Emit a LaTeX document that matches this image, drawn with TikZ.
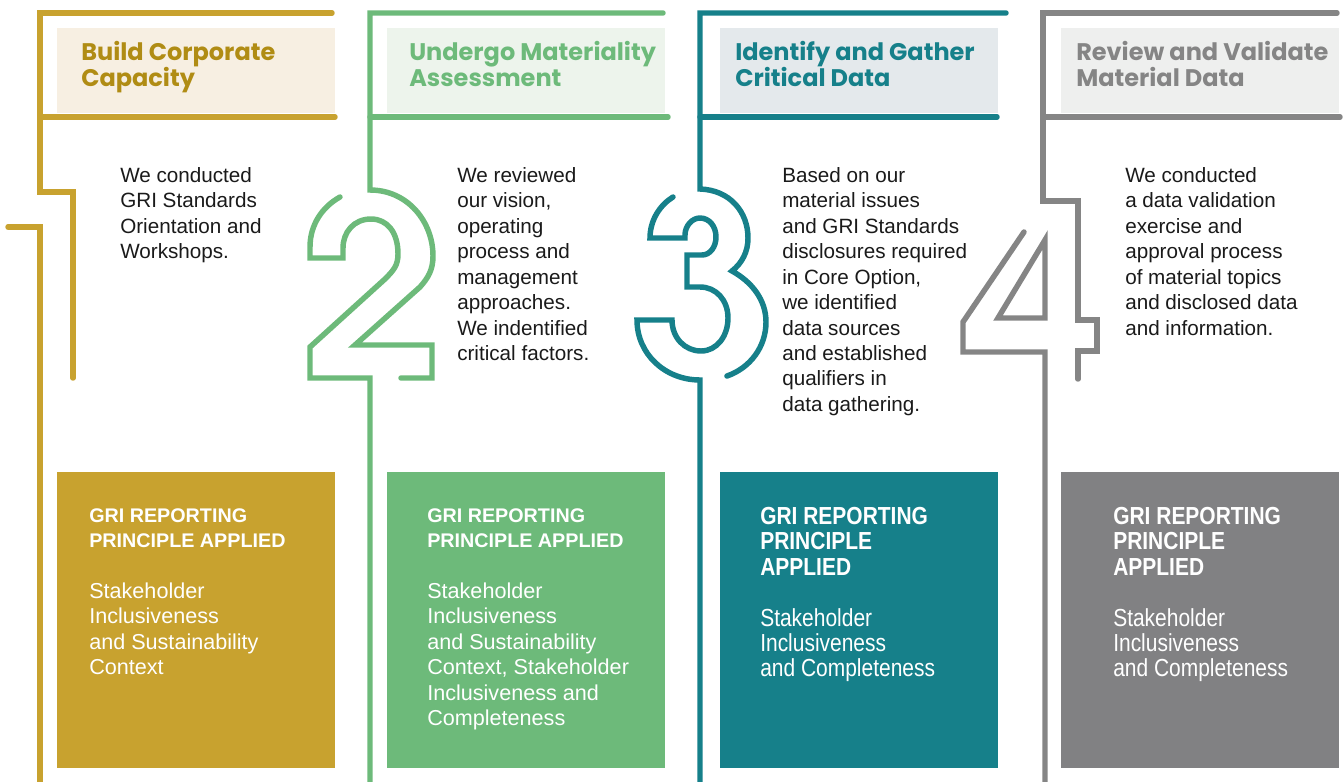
\documentclass[tikz,border=0pt]{standalone}
\usepackage{fontspec}
\setmainfont{Liberation Sans}
\newfontfamily\headfont{Poppins}
\newfontfamily\condfont{Liberation Sans}[FakeStretch=0.85]
\usepackage{xcolor}
\usetikzlibrary{positioning}

\definecolor{goldline}{HTML}{C8A22F}
\definecolor{goldtext}{HTML}{B08C14}
\definecolor{goldfill}{HTML}{F7EFE2}
\definecolor{greenline}{HTML}{6DBA7A}
\definecolor{greenfill}{HTML}{EDF4EC}
\definecolor{tealline}{HTML}{16808A}
\definecolor{tealfill}{HTML}{E4E9EC}
\definecolor{grayline}{HTML}{858585}
\definecolor{grayfill}{HTML}{EEEFEE}
\definecolor{graybox}{HTML}{818183}
\definecolor{bodyink}{HTML}{1A1A1A}

\newcommand{\ptitlefont}{\bfseries\fontsize{14.8}{19.1}\selectfont}

\begin{document}
\begin{tikzpicture}[
  x=0.75pt, y=-0.75pt,
  stroke/.style={line width=4.1pt, line cap=round},
  headbg/.style={
    fill=#1, inner sep=0, anchor=north west,
    minimum width=208.5pt, minimum height=63.75pt
  },
  headtxt/.style={
    text=#1, inner sep=0, align=left,
    font=\headfont\bfseries\fontsize{18}{19.5}\selectfont
  },
  bodytxt/.style={
    text=bodyink, inner sep=0, anchor=north west, align=left,
    font=\fontsize{15.5}{19.1}\selectfont
  },
  pbox/.style={
    fill=#1, inner sep=0, anchor=north west,
    minimum width=208.5pt, minimum height=222pt
  },
  ptxt/.style={
    text=white, inner sep=0, align=left,
    font=\fontsize{16.2}{19.1}\selectfont
  },
  ctxt/.style={
    text=white, inner sep=0, align=left,
    font=\condfont\fontsize{18.5}{19.1}\selectfont
  },
]
\useasboundingbox (0,0) rectangle (1343,782);

% header bands
\node[headbg=goldfill] (hd1) at (57,28) {};
\node[headbg=greenfill] (hd2) at (387,28) {};
\node[headbg=tealfill] (hd3) at (720,28) {};
\node[headbg=grayfill] (hd4) at (1061,28) {};

\node[headtxt=goldtext, below right=10pt and 18pt of hd1.north west] (ht1)
  {Build Corporate\\Capacity};
\node[headtxt=greenline, below right=10pt and 16.5pt of hd2.north west] (ht2)
  {Undergo Materiality\\Assessment};
\node[headtxt=tealline, below right=10pt and 11.25pt of hd3.north west] (ht3)
  {Identify and Gather\\Critical Data};
\node[headtxt=grayline, below right=10pt and 11.25pt of hd4.north west] (ht4)
  {Review and Validate\\Material Data};

% step 1
\draw[stroke, goldline] (332,13) -- (40,13) -- (40,192) -- (73,192) -- (73,378);
\draw[stroke, goldline] (40,117) -- (335,117);
\draw[stroke, goldline] (8,227) -- (40,227) -- (40,790);

% step 2
\draw[stroke, greenline] (663,13) -- (370,13) -- (370,190)
  .. controls (408,190) and (433,222) .. (433,256)
  .. controls (433,270) and (428,278) .. (420,287)
  -- (355,345) -- (432,345) -- (432,378) -- (401,378);
\draw[stroke, greenline] (370,117) -- (668,117);
\draw[stroke, greenline] (370,790) -- (370,378) -- (310,378) -- (310,347)
  -- (385,279) .. controls (394,270) and (398,265) .. (398,254)
  .. controls (398,232) and (387,219) .. (371,219)
  .. controls (354,219) and (343,232) .. (343,248)
  -- (343,258) -- (310,258) -- (310,247)
  .. controls (310,225) and (322,207) .. (340,197);

% step 3
\draw[stroke, tealline] (1006,13) -- (700,13) -- (700,189)
  .. controls (730,190) and (748,212) .. (748,238)
  .. controls (748,252) and (742,263) .. (732,271)
  .. controls (752,282) and (766,300) .. (766,322)
  .. controls (766,347) and (750,368) .. (727,376);
\draw[stroke, tealline] (700,117) -- (997,117);
\draw[stroke, tealline] (700,790) -- (700,380)
  .. controls (665,380) and (637,354) .. (637,320) -- (672,320)
  .. controls (672,338) and (685,351) .. (701,351)
  .. controls (717,351) and (728,336) .. (728,318)
  .. controls (728,300) and (716,287) .. (700,287)
  -- (687,287) -- (687,255) -- (702,255)
  .. controls (710,255) and (716,247) .. (716,237)
  .. controls (716,226) and (709,218) .. (700,218)
  .. controls (692,218) and (685,226) .. (685,235)
  -- (685,238) -- (650,238)
  .. controls (650,220) and (660,205) .. (673,197);

% step 4
\draw[stroke, grayline] (1337,13) -- (1043,13) -- (1043,201) -- (1078,201)
  -- (1078,320) -- (1097,320) -- (1097,351) -- (1078,351) -- (1078,379);
\draw[stroke, grayline] (1043,117) -- (1340,117);
\draw[stroke, grayline] (1024,232) -- (963,322) -- (963,352) -- (1045,352) -- (1045,790);
\draw[stroke, grayline] (1045,240) -- (998,318) -- (1045,318) -- cycle;

% descriptions
\node[bodytxt] (bt1) at (120,167)
  {We conducted\\GRI Standards\\Orientation and\\Workshops.};
\node[bodytxt] (bt2) at (457,167)
  {We reviewed\\our vision,\\operating\\process and\\management\\approaches.\\We indentified\\critical factors.};
\node[bodytxt] (bt3) at (782,167)
  {Based on our\\material issues\\and GRI Standards\\disclosures required\\in Core Option,\\we identified\\data sources\\and established\\qualifiers in\\data gathering.};
\node[bodytxt] (bt4) at (1125,167)
  {We conducted\\a data validation\\exercise and\\approval process\\of material topics\\and disclosed data\\and information.};

% principle boxes
\node[pbox=goldline] (pb1) at (57,472) {};
\node[pbox=greenline] (pb2) at (387,472) {};
\node[pbox=tealline] (pb3) at (720,472) {};
\node[pbox=graybox] (pb4) at (1061,472) {};

\node[ptxt, below right=27pt and 24pt of pb1.north west] (pt1)
  {{\ptitlefont GRI REPORTING}\\{\ptitlefont PRINCIPLE APPLIED}\\[19.1pt]Stakeholder\\Inclusiveness\\and Sustainability\\Context};
\node[ptxt, below right=27pt and 30pt of pb2.north west] (pt2)
  {{\ptitlefont GRI REPORTING}\\{\ptitlefont PRINCIPLE APPLIED}\\[19.1pt]Stakeholder\\Inclusiveness\\and Sustainability\\Context, Stakeholder\\Inclusiveness and\\Completeness};
\node[ctxt, below right=26pt and 30pt of pb3.north west] (pt3)
  {\textbf{GRI REPORTING}\\\textbf{PRINCIPLE}\\\textbf{APPLIED}\\[19.1pt]Stakeholder\\Inclusiveness\\and Completeness};
\node[ctxt, below right=26pt and 39pt of pb4.north west] (pt4)
  {\textbf{GRI REPORTING}\\\textbf{PRINCIPLE}\\\textbf{APPLIED}\\[19.1pt]Stakeholder\\Inclusiveness\\and Completeness};

\end{tikzpicture}
\end{document}
